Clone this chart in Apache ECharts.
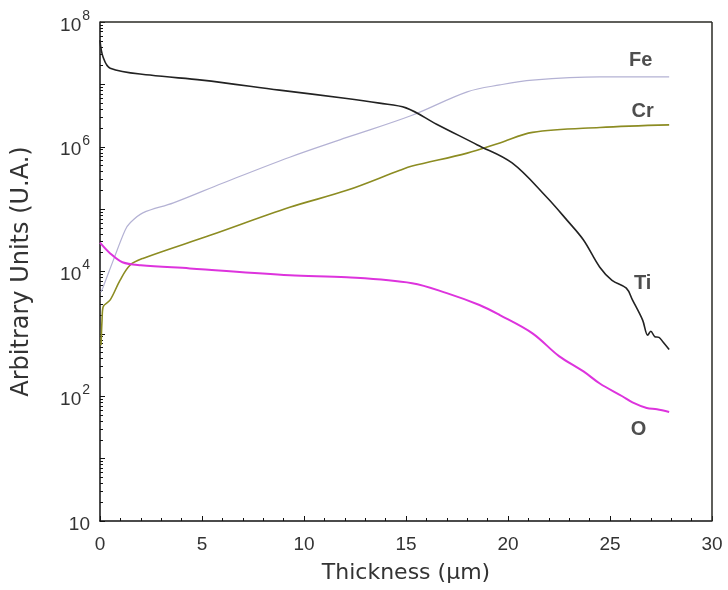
<!DOCTYPE html>
<html>
<head>
<meta charset="utf-8">
<script src="https://cdn.jsdelivr.net/npm/echarts@6/dist/echarts.min.js"></script>
<style>html,body{margin:0;padding:0;background:#fff}#c{width:728px;height:590px}</style>
</head>
<body>
<div id="c"></div>
<script>
// ---- data ----
var tiX = [0, 0.15, 0.5, 2.45, 5.0, 8.8, 12.0, 13.7, 15.0, 16.5, 18.5, 20.2, 21.9, 22.9, 23.7, 24.5, 25.1, 25.8, 26.1, 26.6, 26.85, 27.0, 27.2, 27.4, 27.6, 27.9];
var tiY = [5.1e7, 2.75e7, 1.82e7, 1.41e7, 1.17e7, 8.1e6, 6.0e6, 5.0e6, 4.2e6, 2.3e6, 1.07e6, 5.5e5, 1.55e5, 6.6e4, 3.2e4, 1.17e4, 7.2e3, 5.4e3, 3.5e3, 1.66e3, 955, 1.1e3, 900, 880, 740, 560];

var feX = [0.05, 0.15, 0.64, 1.23, 1.47, 2.1, 3.6, 6.0, 9.3, 12.1, 15.3, 18.0, 19.6, 21.2, 24.5, 27.9];
var feY = [4.7e3, 5.6e3, 1.48e4, 4.6e4, 6.0e4, 8.7e4, 1.26e5, 2.6e5, 6.8e5, 1.41e6, 3.2e6, 7.6e6, 9.8e6, 1.17e7, 1.32e7, 1.32e7];

var crX = [0.05, 0.1, 0.15, 0.5, 0.98, 1.47, 2.1, 5.4, 9.3, 12.1, 14.7, 15.3, 18.0, 19.6, 21.2, 24.5, 27.9];
var crY = [660, 1.66e3, 2.7e3, 3.5e3, 7.2e3, 1.26e4, 1.62e4, 3.8e4, 1.07e5, 2.0e5, 4.2e5, 4.9e5, 7.9e5, 1.15e6, 1.7e6, 2.04e6, 2.24e6];

var oX = [0, 0.5, 1.1, 2.0, 4.4, 9.3, 12.1, 15.3, 17.0, 18.6, 19.6, 21.2, 22.5, 23.7, 24.5, 25.6, 26.1, 26.8, 27.3, 27.9];
var oY = [2.9e4, 1.95e4, 1.41e4, 1.26e4, 1.12e4, 8.7e3, 8.1e3, 6.5e3, 4.5e3, 2.9e3, 2.0e3, 1.02e3, 440, 250, 160, 100, 80, 65, 62, 56];

var labelNames = ['Fe', 'Cr', 'Ti', 'O'];
var labelX = [26.5, 26.6, 26.6, 26.4];
var labelY = [2.45e7, 3.7e6, 6.5e3, 29];

var xTicks = [0, 5, 10, 15, 20, 25, 30];
var yMin = 1, yMax = 1e8;

function pairs(xs, ys) { return xs.map(function (x, i) { return [x, ys[i]]; }); }

var chart = echarts.init(document.getElementById('c'));
var FONT = '"Liberation Sans", Arial, sans-serif';
var NFONT = '"DejaVu Sans", sans-serif';
var xMax = xTicks[xTicks.length - 1];

chart.setOption({
  animation: false,
  backgroundColor: '#fff',
  grid: { left: 100, right: 16, top: 22, bottom: 69, show: false },
  xAxis: {
    type: 'value', min: xTicks[0], max: xMax, interval: 5,
    name: 'Thickness (µm)', nameLocation: 'middle', nameGap: 41,
    nameTextStyle: { fontFamily: NFONT, fontSize: 22, color: '#333' },
    axisLine: { onZero: false, lineStyle: { color: '#111', width: 1.5 } },
    axisTick: { inside: true, length: 5, lineStyle: { color: '#111' } },
    minorTick: { show: true, splitNumber: 5, length: 3, lineStyle: { color: '#111' } },
    splitLine: { show: false },
    axisLabel: { fontFamily: FONT, fontSize: 19, color: '#333', margin: 14 }
  },
  yAxis: {
    type: 'log', logBase: 10, min: yMin, max: yMax, interval: 1, splitNumber: 8,
    name: 'Arbitrary Units (U.A.)', nameLocation: 'middle', nameGap: 66,
    nameTextStyle: { fontFamily: NFONT, fontSize: 24, color: '#333' },
    axisLine: { show: true, onZero: false, lineStyle: { color: '#111', width: 1.5 } },
    axisTick: { inside: true, length: 5, lineStyle: { color: '#111' } },
    minorTick: { show: true, splitNumber: 9, length: 3, lineStyle: { color: '#111' } },
    splitLine: { show: false },
    axisLabel: {
      margin: 10, fontFamily: FONT, color: '#333',
      formatter: function (v) {
        var n = Math.round(Math.log10(v));
        if (n === 0) return '{b|10}';
        if (n % 2 !== 0) return '';
        return '{b|10}{s|' + n + '}';
      },
      rich: {
        b: { fontFamily: FONT, fontSize: 19, color: '#333', verticalAlign: 'bottom', lineHeight: 26 },
        s: { fontFamily: FONT, fontSize: 14, color: '#333', verticalAlign: 'top', lineHeight: 26, padding: [0, 0, 0, 1] }
      }
    }
  },
  series: [
    { name: 'Fe', type: 'line', data: pairs(feX, feY), showSymbol: false, smooth: 0.35, lineStyle: { color: '#b4b2d4', width: 1.2 }, z: 2 },
    { name: 'Cr', type: 'line', data: pairs(crX, crY), showSymbol: false, smooth: 0.35, lineStyle: { color: '#8c8c22', width: 1.6 }, z: 3 },
    { name: 'O', type: 'line', data: pairs(oX, oY), showSymbol: false, smooth: 0.35, lineStyle: { color: '#dd33dd', width: 2 }, z: 3 },
    {
      name: 'Ti', type: 'line', data: pairs(tiX, tiY), showSymbol: false, smooth: 0.35, lineStyle: { color: '#222', width: 1.6 }, z: 4,
      markLine: {
        silent: true, symbol: 'none', label: { show: false }, animation: false,
        lineStyle: { color: '#2a2a24', width: 1.5, type: 'solid' },
        data: [{ xAxis: xMax }, { yAxis: yMax }]
      }
    },
    {
      name: 'labels', type: 'scatter', symbolSize: 1, itemStyle: { color: 'transparent' },
      data: labelNames.map(function (n, i) { return { name: n, value: [labelX[i], labelY[i]] }; }),
      label: { show: true, position: 'inside', formatter: '{b}', fontFamily: FONT, fontWeight: 'bold', fontSize: 20, color: '#222' },
      z: 5
    }
  ]
});
</script>
</body>
</html>
